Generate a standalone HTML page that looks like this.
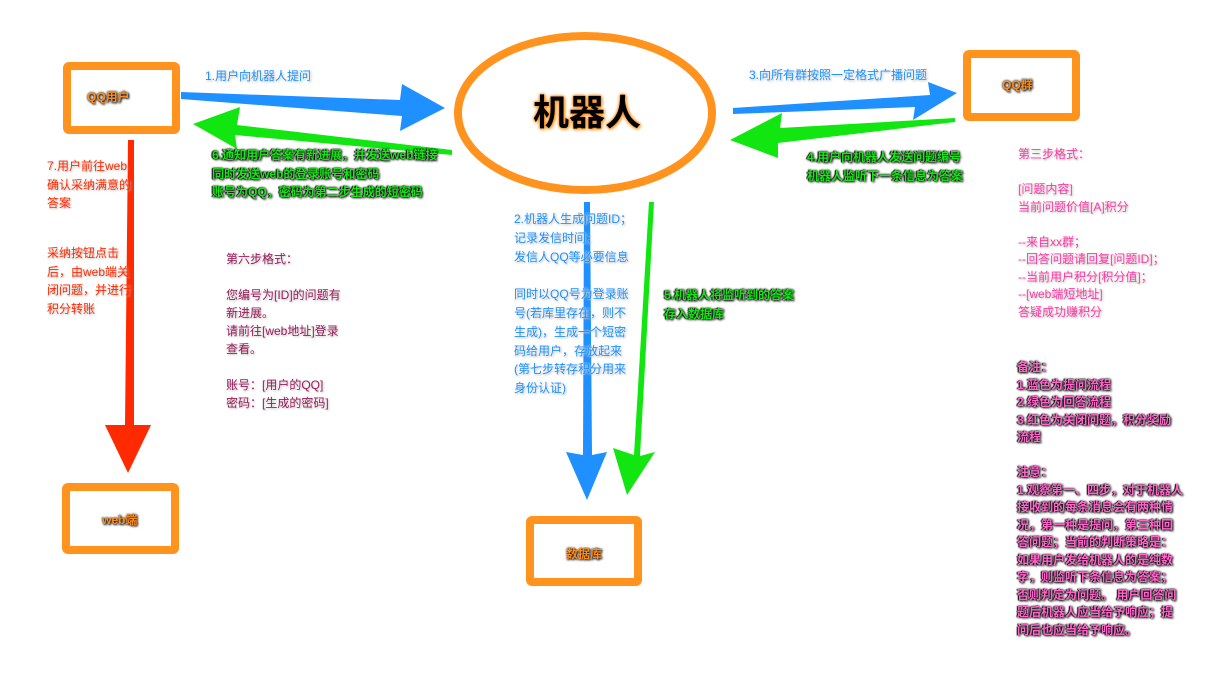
<!DOCTYPE html>
<html><head><meta charset="utf-8"><style>
body{margin:0;width:1214px;height:683px;background:#fff;position:relative;overflow:hidden;font-family:"Liberation Sans","Noto Sans CJK SC",sans-serif}
.t{position:absolute;font-size:12px;line-height:17.5px;white-space:nowrap}
.b{color:#1e90ff;text-shadow:0 0 2px #fff,1px 1px 2px #aaa}
.g{color:#19e619;font-weight:bold;text-shadow:0 0 2px #000,1px 1px 2px #000,-1px 0 1px #000}
.r{color:#ff2a00;text-shadow:1px 1px 2px #bbb}
.m{color:#9b1b5a;text-shadow:1px 1px 2px #bbb}
.p{color:#ff3aa0;text-shadow:1px 1px 2px #bbb}
.k{color:#ff66cc;font-weight:bold;text-shadow:0 0 2px #000,1px 1px 2px #000,-1px 0 1px #000}
.o{color:#ff8c1a;font-weight:bold;text-shadow:0 0 2px #000,1px 1px 2px #000}
</style></head><body>
<svg width="1214" height="683" style="position:absolute;left:0;top:0">
<g fill="none" stroke="#ff931e" stroke-width="8">
<rect x="67" y="66" width="109" height="64" rx="2"/>
<rect x="967" y="54" width="109" height="63" rx="2"/>
<rect x="66" y="487" width="109" height="63" rx="2"/>
<rect x="530" y="520" width="108" height="62" rx="2"/>
<ellipse cx="585" cy="113" rx="127" ry="77"/>
</g>
<!-- blue 1 -->
<polygon points="181,92 400,100 402,84 445,108 400,131 402,116 181,99" fill="#1e90ff"/>
<!-- green 6 -->
<polygon points="452,150 237,125 240,107 193,124 237,149 235,135 452,155" fill="#11e611"/>
<!-- blue 3 -->
<polygon points="733,108 930,95 928,82 957,93 913,120 915,107 733,114" fill="#1e90ff"/>
<!-- green 4 -->
<polygon points="955,118 780,128 782,113 730,140 778,158 778,143 955,122" fill="#11e611"/>
<!-- blue 2 -->
<polygon points="584,202 590,202 592,455 607,452 587,500 566,452 583,455" fill="#1e90ff"/>
<!-- green 5 -->
<polygon points="649,202 654,202 640,456 655,452 627,495 613,448 634,455" fill="#11e611"/>
<!-- red 7 -->
<polygon points="128,140 134,140 134,425 151,425 128,473 105,425 125,425" fill="#ff2a00"/>
</svg>
<div class="t o" style="left:87px;top:89px;font-size:12px">QQ用户</div>
<div class="t o" style="left:1002px;top:77px">QQ群</div>
<div class="t o" style="left:102px;top:512px">web端</div>
<div class="t o" style="left:566px;top:546px">数据库</div>
<div class="t o" style="left:533px;top:92px;font-size:36px;line-height:42px;color:#000;text-shadow:0 0 3px #ff931e,0 0 3px #ff931e,1px 1px 3px #ff931e">机器人</div>
<div class="t b" style="left:205px;top:68px">1.用户向机器人提问</div>
<div class="t b" style="left:749px;top:67px">3.向所有群按照一定格式广播问题</div>
<div class="t g" style="left:212px;top:146px;line-height:18.5px">6.通知用户答案有新进展，并发送web链接<br>同时发送web的登录账号和密码<br>账号为QQ，密码为第二步生成的短密码</div>
<div class="t g" style="left:807px;top:148px;line-height:18.5px">4.用户向机器人发送问题编号<br>机器人监听下一条信息为答案</div>
<div class="t r" style="left:47px;top:157px;line-height:18.5px">7.用户前往web<br>确认采纳满意的<br>答案</div>
<div class="t r" style="left:47px;top:244px;line-height:18.5px">采纳按钮点击<br>后，由web端关<br>闭问题，并进行<br>积分转账</div>
<div class="t m" style="left:226px;top:250px;line-height:18px">第六步格式：<br><br>您编号为[ID]的问题有<br>新进展。<br>请前往[web地址]登录<br>查看。<br><br>账号：[用户的QQ]<br>密码：[生成的密码]</div>
<div class="t b" style="left:514px;top:210px;line-height:18.8px">2.机器人生成问题ID；<br>记录发信时间；<br>发信人QQ等必要信息<br><br>同时以QQ号为登录账<br>号(若库里存在，则不<br>生成)，生成一个短密<br>码给用户，存放起来<br>(第七步转存积分用来<br>身份认证)</div>
<div class="t g" style="left:664px;top:286px;line-height:18.8px">5.机器人将监听到的答案<br>存入数据库</div>
<div class="t p" style="left:1018px;top:146px;line-height:17.5px">第三步格式：<br><br>[问题内容]<br>当前问题价值[A]积分<br><br>--来自xx群；<br>--回答问题请回复[问题ID]；<br>--当前用户积分[积分值]；<br>--[web端短地址]<br>答疑成功赚积分</div>
<div class="t k" style="left:1017px;top:359px;line-height:17.5px">备注：<br>1.蓝色为提问流程<br>2.绿色为回答流程<br>3.红色为关闭问题，积分奖励<br>流程<br><br>注意：<br>1.观察第一、四步，对于机器人<br>接收到的每条消息会有两种情<br>况，第一种是提问，第三种回<br>答问题；当前的判断策略是：<br>如果用户发给机器人的是纯数<br>字，则监听下条信息为答案；<br>否则判定为问题。 用户回答问<br>题后机器人应当给予响应；提<br>问后也应当给予响应。</div>
</body></html>
